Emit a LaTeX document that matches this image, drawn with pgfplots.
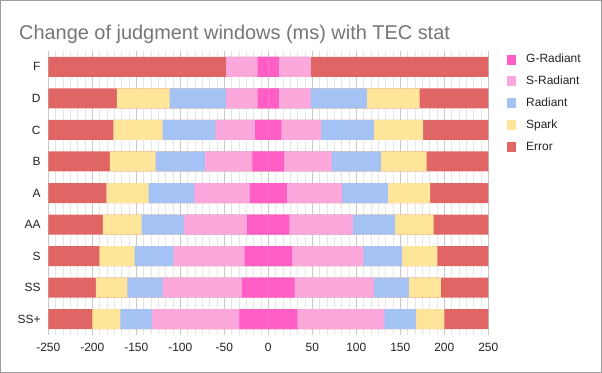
\documentclass[border=0pt]{standalone}
\usepackage{pgfplots}
\pgfplotsset{compat=1.18}
\usepackage{pgfplotstable}
\usepackage{fontspec}
\setmainfont{Liberation Sans}
\definecolor{cG}{HTML}{FF5EC4}
\definecolor{cS}{HTML}{FCA8DD}
\definecolor{cR}{HTML}{A4C2F4}
\definecolor{cSp}{HTML}{FFE599}
\definecolor{cE}{HTML}{E06666}
\definecolor{majg}{HTML}{C8C8C8}
\definecolor{ming}{HTML}{E6E6E6}
\definecolor{ttl}{HTML}{757575}
\definecolor{lbl}{HTML}{222222}
\definecolor{framec}{HTML}{9E9E9E}

\pgfplotstableread{
cat y G S R Sp E
F 8 12 48 48 48 250
D 7 12 48 112 172 250
C 6 15 60 120 176 250
B 5 18 72 128 180 250
A 4 21 84 136 184 250
AA 3 24 96 144 188 250
S 2 27 108 152 192 250
SS 1 30 120 160 196 250
SS+ 0 33 132 168 200 250
}\datatable

\begin{document}
\begin{tikzpicture}
\useasboundingbox (0,0) rectangle (602bp,373bp);
\draw[framec, line width=1bp] (0.5bp,0.5bp) rectangle (601.5bp,372.5bp);
\node[anchor=base west, text=ttl, font=\fontsize{20}{24}\selectfont, inner sep=0pt] at (19bp,333.5bp) {Change of judgment windows (ms) with TEC stat};
\begin{axis}[
  at={(48.3bp,38bp)}, anchor=south west,
  scale only axis, width=440bp, height=284bp,
  xbar, bar width=20bp, bar shift=0pt,
  every axis plot/.append style={bar shift=0pt, bar width=20bp},
  xmin=-250, xmax=250, ymin=-0.5, ymax=8.5,
  xtick={-250,-200,...,250}, minor x tick num=5,
  ytick={0,...,8}, yticklabels={SS+,SS,S,AA,A,B,C,D,F},
  xmajorgrids, xminorgrids, ymajorgrids=false,
  major grid style={majg, line width=0.8bp},
  minor grid style={ming, line width=0.8bp},
  axis line style={draw=none}, tick style={draw=none},
  major tick length=0pt, minor tick length=0pt,
  extra x ticks={0}, extra x tick labels={},
  extra x tick style={grid style={black!80, line width=1bp}},
  tick label style={font=\fontsize{12}{14}\selectfont, text=lbl, inner sep=0pt},
  xticklabel style={yshift=-7.5bp},
  yticklabel style={xshift=-7.6bp},
  /pgf/number format/assume math mode=true,
  reverse legend,
  legend cell align=left,
  legend style={at={(1.043,0.991)}, anchor=north west, draw=none, fill=none,
    inner sep=0pt, outer sep=0pt, row sep=9.9bp,
    font=\fontsize{12}{14}\selectfont, text=lbl,
    nodes={inner sep=0pt, text height=9bp, text depth=3bp},
    /tikz/every odd column/.append style={column sep=10bp}},
  legend image code/.code={\fill[#1] (0bp,-5bp) rectangle (9bp,5bp);},
]
\addplot[fill=cE, draw=none] table[x=E, y=y] {\datatable};
\addlegendentry{Error}
\addplot[fill=cE, draw=none, forget plot] table[x expr=-\thisrow{E}, y=y] {\datatable};
\addplot[fill=cSp, draw=none] table[x=Sp, y=y] {\datatable};
\addlegendentry{Spark}
\addplot[fill=cSp, draw=none, forget plot] table[x expr=-\thisrow{Sp}, y=y] {\datatable};
\addplot[fill=cR, draw=none] table[x=R, y=y] {\datatable};
\addlegendentry{Radiant}
\addplot[fill=cR, draw=none, forget plot] table[x expr=-\thisrow{R}, y=y] {\datatable};
\addplot[fill=cS, draw=none] table[x=S, y=y] {\datatable};
\addlegendentry{S-Radiant}
\addplot[fill=cS, draw=none, forget plot] table[x expr=-\thisrow{S}, y=y] {\datatable};
\addplot[fill=cG, draw=none] table[x=G, y=y] {\datatable};
\addlegendentry{G-Radiant}
\addplot[fill=cG, draw=none, forget plot] table[x expr=-\thisrow{G}, y=y] {\datatable};
\end{axis}
\end{tikzpicture}
\end{document}
